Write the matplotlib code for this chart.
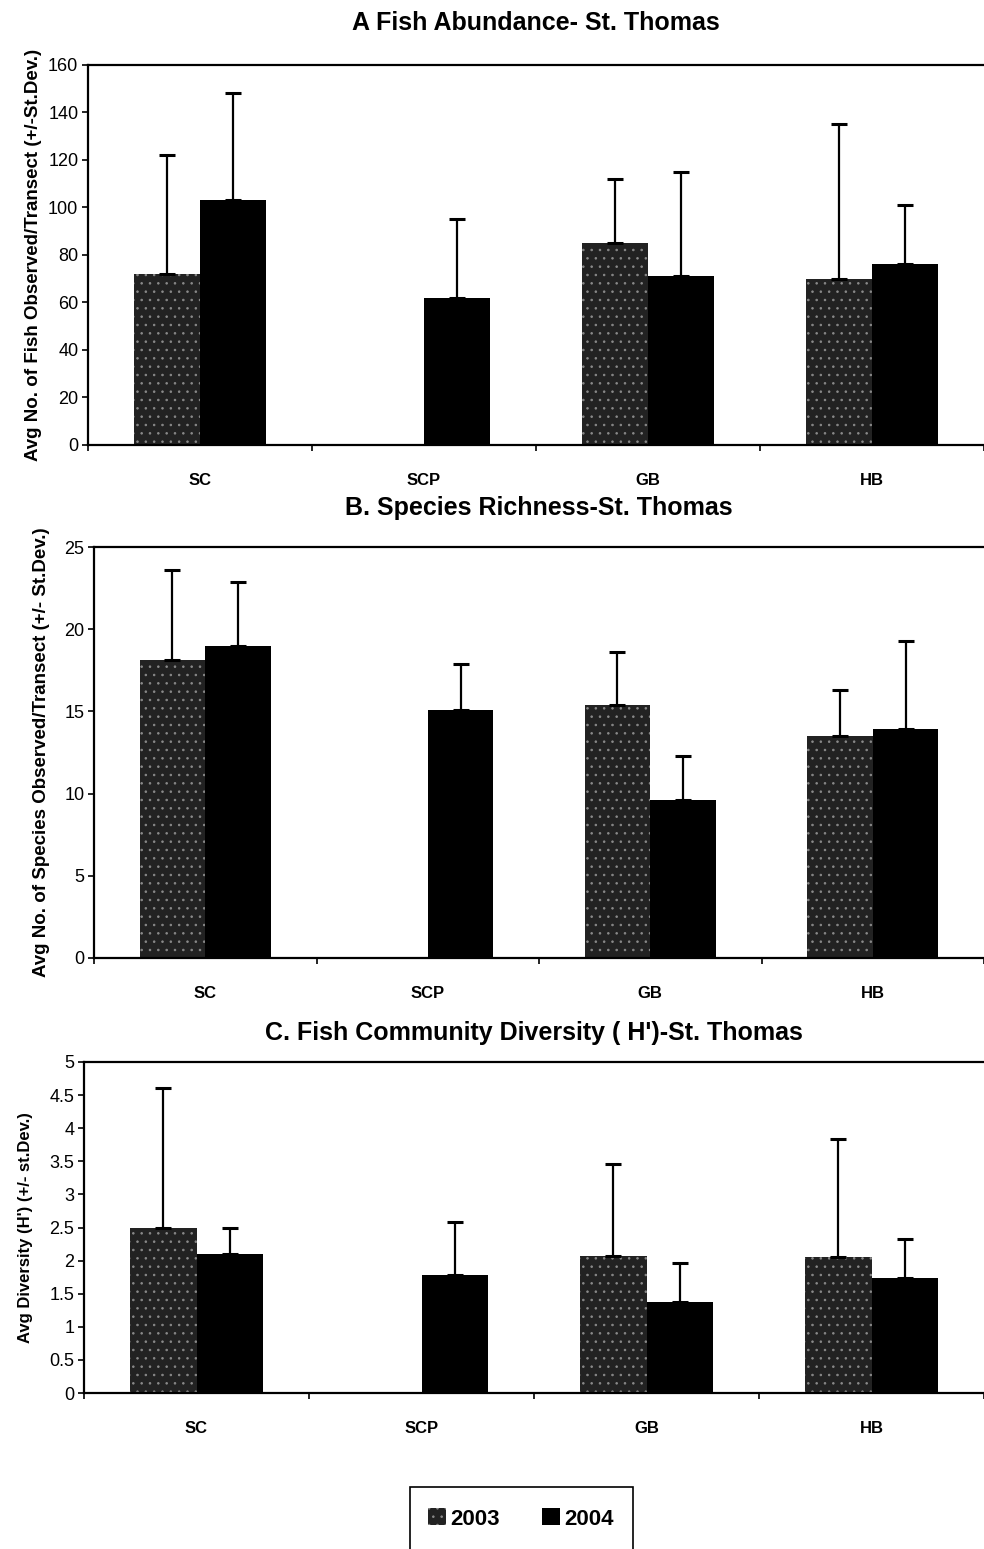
import matplotlib
matplotlib.use("Agg")
import matplotlib.pyplot as plt
from matplotlib.patches import Rectangle, Patch
import numpy as np

sites = ["SC", "SCP", "GB", "HB"]
years = ["2003", "2004"]

# mean and upper st.dev. per site, nan where a site was not surveyed
abund_2003 = [72, np.nan, 85, 70]
abund_2003_sd = [50, np.nan, 27, 65]
abund_2004 = [103, 62, 71, 76]
abund_2004_sd = [45, 33, 44, 25]

rich_2003 = [18.1, np.nan, 15.4, 13.5]
rich_2003_sd = [5.5, np.nan, 3.2, 2.8]
rich_2004 = [19.0, 15.1, 9.6, 13.9]
rich_2004_sd = [3.9, 2.8, 2.7, 5.4]

div_2003 = [2.50, np.nan, 2.07, 2.05]
div_2003_sd = [2.10, np.nan, 1.39, 1.78]
div_2004 = [2.10, 1.78, 1.37, 1.73]
div_2004_sd = [0.40, 0.80, 0.59, 0.60]

SANS = ["Liberation Sans", "DejaVu Sans"]

plt.rcParams["hatch.linewidth"] = 0.6

W, H = 984, 1549
fig = plt.figure(figsize=(W / 100, H / 100), dpi=100)


def px_axes(left, top, bottom, right=W):
    return fig.add_axes([left / W, 1 - bottom / H, (right - left) / W, (bottom - top) / H])


def panel(ax, v03, sd03, v04, sd04, ymax, ystep, title, title_pad,
          ylabel, ylab_size, ylab_pad, yfmt):
    x = np.arange(len(sites))
    bw = 0.295
    ax.bar(x - bw / 2, v03, bw, color="#222222", edgecolor="#8a8a8a",
           hatch="..", linewidth=0, zorder=2)
    ax.bar(x + bw / 2, v04, bw, color="black", linewidth=0, zorder=2)
    ekw = dict(fmt="none", ecolor="black", elinewidth=1.6, capsize=5.5,
               capthick=2.2, zorder=3)
    ax.errorbar(x - bw / 2, v03, yerr=[np.zeros(len(x)), sd03], **ekw)
    ax.errorbar(x + bw / 2, v04, yerr=[np.zeros(len(x)), sd04], **ekw)

    ax.set_xlim(-0.5, len(sites) - 0.5)
    ax.set_ylim(0, ymax)
    yt = np.arange(0, ymax + ystep / 2, ystep)
    ax.set_yticks(yt)
    ax.set_yticklabels([yfmt(v) for v in yt], family=SANS, fontsize=13)
    ax.set_xticks(np.arange(len(sites) + 1) - 0.5)
    ax.set_xticklabels([])
    ax.set_xticks(x, minor=True)
    ax.set_xticklabels(sites, minor=True, family=SANS, fontsize=12,
                       fontweight="bold")
    ax.tick_params(axis="x", which="minor", length=0, pad=20)
    ax.tick_params(axis="x", which="major", length=4, width=1.2, direction="out")
    ax.tick_params(axis="y", length=4, width=1.2, direction="out", pad=3)
    ax.spines["right"].set_visible(False)
    for s in ("left", "top", "bottom"):
        ax.spines[s].set_linewidth(1.6)
    ax.set_title(title, family=SANS, fontsize=18, fontweight="bold", pad=title_pad)
    ax.set_ylabel(ylabel, family=SANS, fontsize=ylab_size, fontweight="bold",
                  labelpad=ylab_pad)


axA = px_axes(88, 65, 445)
panel(axA, abund_2003, abund_2003_sd, abund_2004, abund_2004_sd, 160, 20,
      "A Fish Abundance- St. Thomas", 25,
      "Avg No. of Fish Observed/Transect (+/-St.Dev.)", 13.5, 4,
      lambda v: f"{v:.0f}")

axB = px_axes(94, 547, 958)
panel(axB, rich_2003, rich_2003_sd, rich_2004, rich_2004_sd, 25, 5,
      "B. Species Richness-St. Thomas", 23,
      "Avg No. of Species Observed/Transect (+/- St.Dev.)", 13.5, 10,
      lambda v: f"{v:.0f}")

axC = px_axes(84, 1062, 1393)
panel(axC, div_2003, div_2003_sd, div_2004, div_2004_sd, 5, 0.5,
      "C. Fish Community Diversity ( H')-St. Thomas", 16,
      "Avg Diversity (H') (+/- st.Dev.)", 12, 12,
      lambda v: f"{v:g}")

# legend box runs off the bottom edge of the page
fig.patches.append(Rectangle((410 / W, 1 - 1565 / H), 223 / W, 78 / H,
                             transform=fig.transFigure, fill=False,
                             edgecolor="black", linewidth=1.2, clip_on=False))
handles = [Patch(facecolor="#222222", edgecolor="#8a8a8a", hatch="..", linewidth=0),
           Patch(facecolor="black", linewidth=0)]
fig.legend(handles, years, loc="center", bbox_to_anchor=(521 / W, 1 - 1519 / H),
           ncol=2, frameon=False, handlelength=0.8, handleheight=0.8,
           handletextpad=0.2, columnspacing=1.9,
           prop=dict(family=SANS, size=16, weight="bold"))

fig.savefig("out.png", dpi=100)
